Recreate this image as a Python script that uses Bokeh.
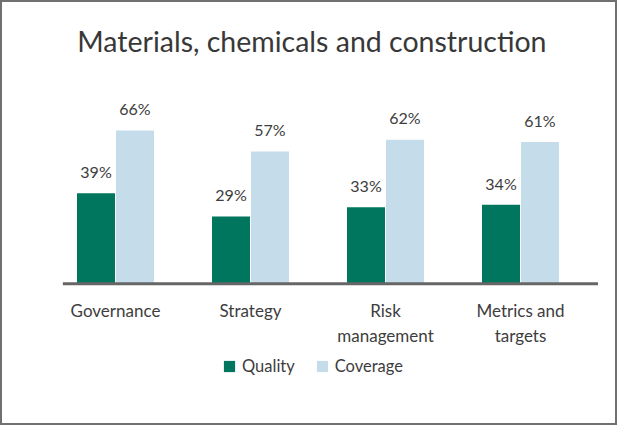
from bokeh.plotting import figure
from bokeh.models import ColumnDataSource, Range1d, Legend, LegendItem
from bokeh.embed import file_html
from bokeh.resources import INLINE
from bokeh.core.properties import value
from bokeh.transform import dodge

title_text = "Materials, chemicals and construction"
categories = ["Governance", "Strategy", "Risk\nmanagement", "Metrics and\ntargets"]
quality = [39, 29, 33, 34]
coverage = [66, 57, 62, 61]
series_names = ["Quality", "Coverage"]

GREEN = "#00765F"
BLUE = "#C5DDEB"
TEXT = "#3d3d3d"
FONT = "Lato"

xs = list(range(len(categories)))
src = ColumnDataSource(dict(
    x=xs, cat=categories, quality=quality, coverage=coverage,
    qlab=[f"{v}%" for v in quality], clab=[f"{v}%" for v in coverage],
))

W, H = 617, 425
# frame fills the whole figure; 1 x-unit = 135 px, 1 y-unit (percent) = 2.323 px
p = figure(width=W, height=H, output_backend="svg", toolbar_location=None,
           x_range=Range1d(-0.8519, 3.7185), y_range=Range1d(-61.0, 121.96),
           x_axis_location=None, y_axis_location=None,
           min_border=0)
p.grid.visible = False
p.outline_line_color = "#707070"
p.outline_line_width = 3

off, bw = 0.1444, 0.2816
rq = p.vbar(x=dodge("x", -off, range=p.x_range), top="quality", width=bw, source=src,
            fill_color=GREEN, line_color=None)
rc = p.vbar(x=dodge("x", off, range=p.x_range), top="coverage", width=bw, source=src,
            fill_color=BLUE, line_color=None)

# baseline (category axis line)
p.segment(x0=[-0.39], x1=[3.574], y0=[0], y1=[0], line_color="#666666", line_width=3)

for col, lab, d in (("quality", "qlab", -off), ("coverage", "clab", off)):
    p.text(x=dodge("x", d, range=p.x_range), y=col, text=lab,
           source=src, text_align="center", text_baseline="top", y_offset=-31.3,
           text_font=value(FONT), text_font_size="16px", text_color=TEXT)

# category labels
p.text(x="x", y=0, text="cat", source=src, text_align="center", text_baseline="top",
       y_offset=16, text_font=value(FONT), text_font_size="17px", text_color=TEXT,
       text_line_height=1.2)

# title
tsrc = ColumnDataSource(dict(x=[1.455], y=[111.97], t=[title_text]))
p.text(x="x", y="y", text="t", source=tsrc, text_align="center", text_baseline="top",
       text_font=value(FONT), text_font_size="28.5px", text_color="#383838")

legend = Legend(items=[LegendItem(label=series_names[0], renderers=[rq]),
                       LegendItem(label=series_names[1], renderers=[rc])],
                orientation="horizontal", location=(222, 49),
                glyph_width=14, glyph_height=14, label_standoff=6, spacing=20,
                padding=0, margin=0, border_line_color=None, background_fill_alpha=0,
                label_text_font=FONT, label_text_font_size="16.5px", label_text_color=TEXT,
                label_height=14)
p.add_layout(legend)

open("out.html", "w").write(file_html(p, INLINE))
